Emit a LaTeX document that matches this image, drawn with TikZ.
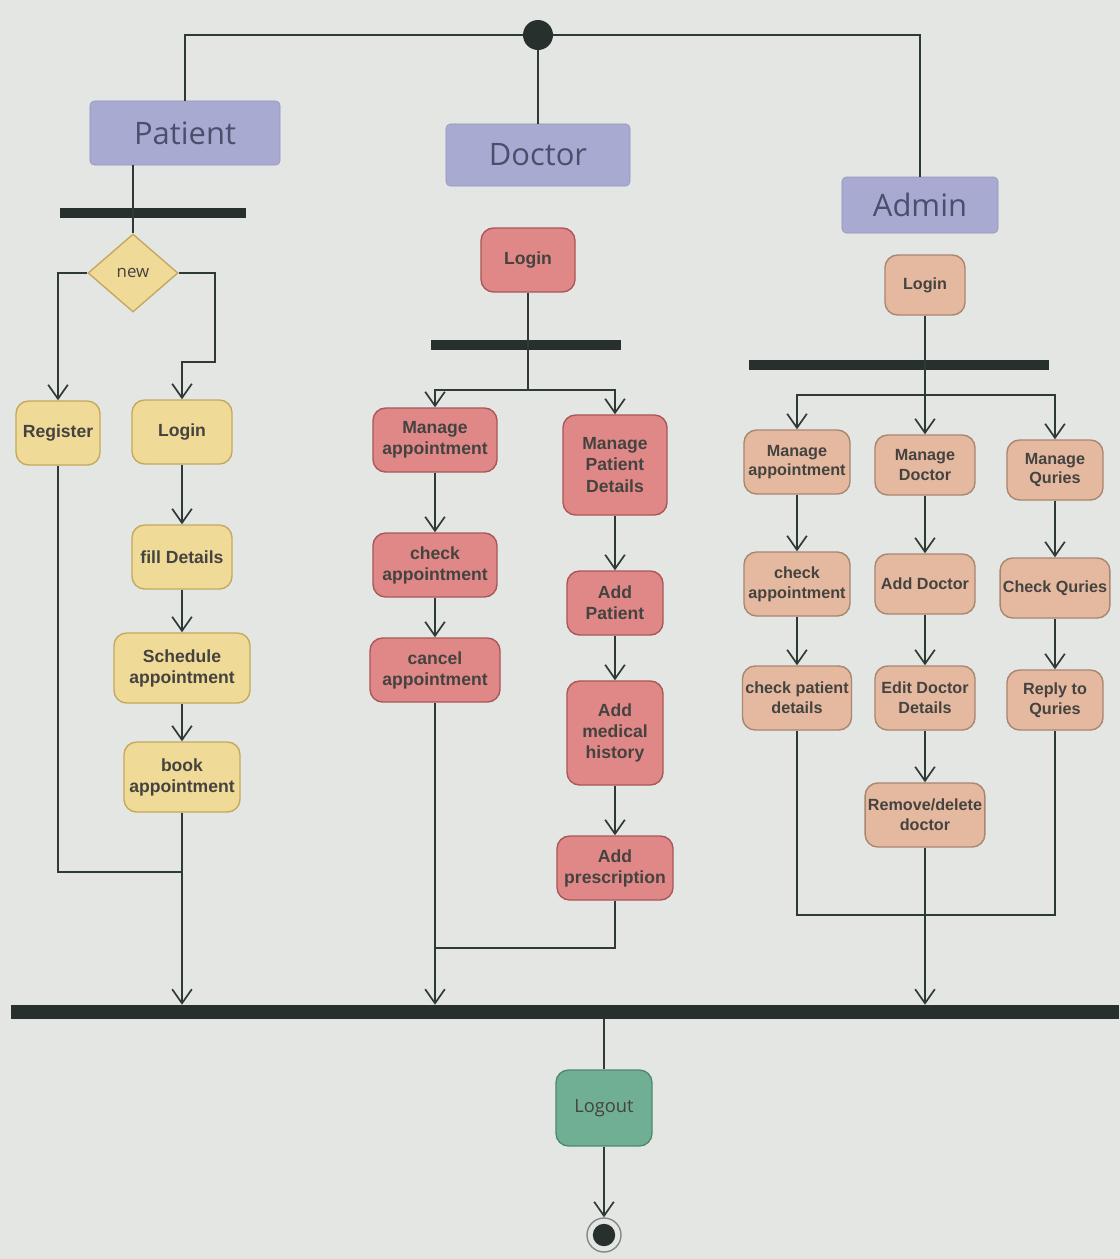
\documentclass[tikz,border=0pt]{standalone}
\usepackage{fontspec}
\setmainfont{Liberation Sans}
\newfontfamily\headfont{Open Sans}
\usetikzlibrary{arrows.meta,shapes.geometric}
\definecolor{paper}{HTML}{E4E6E3}
\definecolor{linecol}{HTML}{2E3A36}
\definecolor{barcol}{HTML}{27302D}
\definecolor{hdfill}{HTML}{A9AAD2}
\definecolor{hdline}{HTML}{9394BE}
\definecolor{hdtext}{HTML}{4B4F6C}
\definecolor{acttext}{HTML}{45433F}
\definecolor{patfill}{HTML}{F0DA98}
\definecolor{patline}{HTML}{C4A95E}
\definecolor{docfill}{HTML}{E08888}
\definecolor{docline}{HTML}{A85858}
\definecolor{admfill}{HTML}{E5B9A0}
\definecolor{admline}{HTML}{A88670}
\definecolor{endfill}{HTML}{70AF93}
\definecolor{endline}{HTML}{4E8B70}

\begin{document}
\begin{tikzpicture}[x=0.025cm,y=-0.025cm,
    lane/.style={draw=hdline,fill=hdfill,rounded corners=3pt,text=hdtext,font=\headfont\fontsize{22}{26}\selectfont},
    act/.style={rounded corners=9pt,line width=1pt,align=center,inner sep=2pt,text=acttext,font=\bfseries\fontsize{12.5}{15}\selectfont},
    pat/.style={act,draw=patline,fill=patfill},
    doc/.style={act,draw=docline,fill=docfill},
    adm/.style={act,draw=admline,fill=admfill,font=\bfseries\fontsize{11.5}{14}\selectfont},
    bar/.style={fill=barcol,inner sep=0pt,minimum height=0.25cm},
    flow/.style={draw=linecol,line width=1.2pt},
    arr/.style={flow,-{Straight Barb[length=10pt,width=14pt,line width=1.2pt]}}]
    \fill[paper] (0,0) rectangle (1120,1259);
    % start and lanes
    \node[circle,fill=barcol,minimum size=0.75cm,inner sep=0pt] (start) at (538,35) {};
    \node[lane,minimum width=4.75cm,minimum height=1.6cm] (patient) at (185,133) {Patient};
    \node[lane,minimum width=4.6cm,minimum height=1.55cm] (doctor) at (538,155) {Doctor};
    \node[lane,minimum width=3.9cm,minimum height=1.4cm] (admin) at (920,205) {Admin};
    \draw[flow] (start) -| (patient);
    \draw[flow] (start) -- (doctor);
    \draw[flow] (start) -| (admin);
    % patient
    \node[bar,minimum width=4.65cm] (pbar) at (153,213) {};
    \node[diamond,draw=patline,fill=patfill,line width=1pt,minimum width=2.25cm,minimum height=1.95cm,inner sep=0pt,text=acttext,font=\headfont\fontsize{12}{14}\selectfont] (new) at (133,273) {new};
    \draw[flow] (patient.south -| new) -- (new);
    \node[pat,minimum width=2.1cm,minimum height=1.6cm] (register) at (58,433) {Register};
    \node[pat,minimum width=2.5cm,minimum height=1.6cm] (plogin) at (182,432) {Login};
    \node[pat,minimum width=2.5cm,minimum height=1.6cm] (fill) at (182,557) {fill Details};
    \node[pat,minimum width=3.4cm,minimum height=1.75cm] (sched) at (182,668) {Schedule\\appointment};
    \node[pat,minimum width=2.9cm,minimum height=1.75cm] (book) at (182,777) {book\\appointment};
    \coordinate (nr) at (215,362);
    \coordinate (pj) at (182,872);
    \draw[arr] (new.west) -| (register);
    \draw[arr] (new.east) -| (nr) -| (plogin);
    \draw[arr] (plogin) -- (fill);
    \draw[arr] (fill) -- (sched);
    \draw[arr] (sched) -- (book);
    \draw[flow] (register) |- (pj);
    % doctor
    \node[doc,minimum width=2.35cm,minimum height=1.6cm] (dlogin) at (528,260) {Login};
    \node[bar,minimum width=4.75cm] (dbar) at (526,345) {};
    \coordinate (dfk) at (528,390);
    \node[doc,minimum width=3.1cm,minimum height=1.6cm] (dma) at (435,440) {Manage\\appointment};
    \node[doc,minimum width=3.1cm,minimum height=1.6cm] (dca) at (435,565) {check\\appointment};
    \node[doc,minimum width=3.25cm,minimum height=1.6cm] (dcn) at (435,670) {cancel\\appointment};
    \node[doc,minimum width=2.6cm,minimum height=2.5cm] (dmp) at (615,465) {Manage\\Patient\\Details};
    \node[doc,minimum width=2.4cm,minimum height=1.6cm] (dap) at (615,603) {Add\\Patient};
    \node[doc,minimum width=2.4cm,minimum height=2.6cm] (dam) at (615,733) {Add\\medical\\history};
    \node[doc,minimum width=2.9cm,minimum height=1.6cm] (dpr) at (615,868) {Add\\prescription};
    \coordinate (dj) at (435,948);
    \draw[flow] (dlogin) -- (dfk);
    \draw[arr] (dfk) -| (dma);
    \draw[arr] (dfk) -| (dmp);
    \draw[arr] (dma) -- (dca);
    \draw[arr] (dca) -- (dcn);
    \draw[arr] (dmp) -- (dap);
    \draw[arr] (dap) -- (dam);
    \draw[arr] (dam) -- (dpr);
    \draw[flow] (dpr) |- (dj);
    % admin
    \node[adm,minimum width=2cm,minimum height=1.5cm] (alogin) at (925,285) {Login};
    \node[bar,minimum width=7.5cm] (abar) at (899,365) {};
    \coordinate (afk) at (925,395);
    \node[adm,minimum width=2.65cm,minimum height=1.6cm] (ama) at (797,462) {Manage\\appointment};
    \node[adm,minimum width=2.65cm,minimum height=1.6cm] (aca) at (797,584) {check\\appointment};
    \node[adm,minimum width=2.7cm,minimum height=1.6cm] (acp) at (797,698) {check patient\\details};
    \node[adm,minimum width=2.5cm,minimum height=1.5cm] (amd) at (925,465) {Manage\\Doctor};
    \node[adm,minimum width=2.5cm,minimum height=1.5cm] (aad) at (925,584) {Add Doctor};
    \node[adm,minimum width=2.5cm,minimum height=1.6cm] (aed) at (925,698) {Edit Doctor\\Details};
    \node[adm,minimum width=2.9cm,minimum height=1.6cm] (ard) at (925,815) {Remove/delete\\doctor};
    \node[adm,minimum width=2.4cm,minimum height=1.5cm] (aqm) at (1055,470) {Manage\\Quries};
    \node[adm,minimum width=2.6cm,minimum height=1.5cm] (acq) at (1055,588) {Check Quries};
    \node[adm,minimum width=2.4cm,minimum height=1.5cm] (arq) at (1055,700) {Reply to\\Quries};
    \coordinate (aj) at (925,915);
    \draw[flow] (alogin) -- (afk);
    \draw[arr] (afk) -| (ama);
    \draw[arr] (afk) -- (amd);
    \draw[arr] (afk) -| (aqm);
    \draw[arr] (ama) -- (aca);
    \draw[arr] (aca) -- (acp);
    \draw[arr] (amd) -- (aad);
    \draw[arr] (aad) -- (aed);
    \draw[arr] (aed) -- (ard);
    \draw[arr] (aqm) -- (acq);
    \draw[arr] (acq) -- (arq);
    \draw[flow] (acp) |- (aj) -| (arq);
    % join and end
    \node[bar,minimum width=27.7cm,minimum height=0.35cm] (jbar) at (565,1012) {};
    \draw[arr] (book) -- (book |- jbar.north);
    \draw[arr] (dcn) -- (dcn |- jbar.north);
    \draw[arr] (ard) -- (ard |- jbar.north);
    \node[act,draw=endline,fill=endfill,minimum width=2.4cm,minimum height=1.9cm,font=\headfont\fontsize{13}{15}\selectfont] (logout) at (604,1108) {Logout};
    \node[circle,draw=linecol!60,line width=1pt,minimum size=0.85cm,inner sep=0pt,
      path picture={\fill[barcol] (path picture bounding box.center) circle (0.28cm);}] (endn) at (604,1235) {};
    \draw[flow] (jbar.south -| logout) -- (logout);
    \draw[arr] (logout) -- (endn);
\end{tikzpicture}
\end{document}
